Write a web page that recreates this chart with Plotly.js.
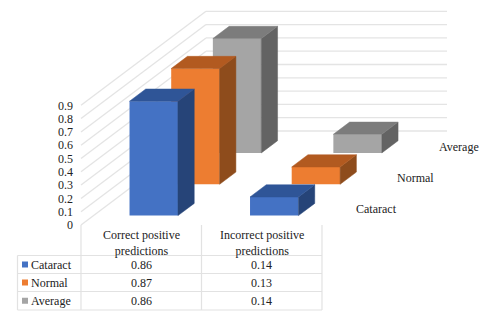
<!DOCTYPE html>
<html>
<head>
<meta charset="utf-8">
<script src="https://cdn.plot.ly/plotly-3.0.1.min.js"></script>
<style>html,body{margin:0;padding:0;background:#fff}#c{width:480px;height:316px}</style>
</head>
<body>
<div id="c"></div>
<script>
var categories = ["Correct positive<br>predictions", "Incorrect positive<br>predictions"];
var seriesNames = ["Cataract", "Normal", "Average"];
var cataract = [0.86, 0.14];
var normal = [0.87, 0.13];
var average = [0.86, 0.14];
var yTicks = [0, 0.1, 0.2, 0.3, 0.4, 0.5, 0.6, 0.7, 0.8, 0.9];
var frontColors = ["#4472C4", "#ED7D31", "#A5A5A5"];
var topColors = ["#2F5597", "#B25A20", "#7C7C7C"];
var sideColors = ["#264478", "#8E4C1C", "#636363"];

var values = [cataract, normal, average];
var FONT = "Liberation Serif, Times New Roman, serif";

// Layout scale: one category = 120.5px, one value unit = 133px, origin at (81,225)
var CW = 120.5, VH = 133, OX = 81, OY = 225;
function X(px) { return (px - OX) / CW; }
function Y(py) { return (OY - py) / VH; }
// Oblique projection of the depth axis (0 front .. 1 back)
var DX = 125 / CW, DY = 94 / VH;
function sx(c, d) { return c + d * DX; }
function sy(v, d) { return v + d * DY; }

var BAR_W = 0.402, D_FRONT = 0.1, D_LEN = 0.13;
var traces = [], shapes = [], annotations = [];

// Depth-projected gridlines on side wall and back wall
var BACK_RIGHT = X(447);
yTicks.forEach(function (v) {
  var line = {color: "#E4E4E4", width: 1.3};
  shapes.push({type: "line", layer: "below", xref: "x", yref: "y", x0: sx(0, 0), y0: sy(v, 0), x1: sx(0, 1), y1: sy(v, 1), line: line});
  shapes.push({type: "line", layer: "below", xref: "x", yref: "y", x0: sx(0, 1), y0: sy(v, 1), x1: BACK_RIGHT, y1: sy(v, 1), line: line});
});

// Back-most series first
for (var s = 2; s >= 0; s--) {
  var d0 = D_FRONT + s / 3, d1 = d0 + D_LEN;
  traces.push({
    type: "bar", name: seriesNames[s], showlegend: false, hoverinfo: "skip",
    x: values[s].map(function (_, i) { return sx(i + 0.5, d0); }),
    y: values[s],
    base: values[s].map(function () { return sy(0, d0); }),
    width: BAR_W,
    marker: {color: frontColors[s], line: {width: 0}}
  });
}
// side and top faces, drawn back to front
for (var s2 = 2; s2 >= 0; s2--) {
  var a = D_FRONT + s2 / 3, b = a + D_LEN;
  values[s2].forEach(function (v, i) {
    var l = i + 0.5 - BAR_W / 2, r = i + 0.5 + BAR_W / 2;
    traces.push({
      type: "scatter", mode: "lines", fill: "toself", showlegend: false, hoverinfo: "skip",
      fillcolor: sideColors[s2], line: {color: sideColors[s2], width: 0.5},
      x: [sx(r, a), sx(r, b), sx(r, b), sx(r, a), sx(r, a)],
      y: [sy(0, a), sy(0, b), sy(v, b), sy(v, a), sy(0, a)]
    });
    traces.push({
      type: "scatter", mode: "lines", fill: "toself", showlegend: false, hoverinfo: "skip",
      fillcolor: topColors[s2], line: {color: topColors[s2], width: 0.5},
      x: [sx(l, a), sx(r, a), sx(r, b), sx(l, b), sx(l, a)],
      y: [sy(v, a), sy(v, a), sy(v, b), sy(v, b), sy(v, a)]
    });
  });
}

function label(text, px, py, anchor) {
  annotations.push({text: text, xref: "x", yref: "y", x: X(px), y: Y(py), xanchor: anchor, yanchor: "middle",
    showarrow: false, align: "center", borderpad: 0, font: {family: FONT, size: 12, color: "#222"}});
}

// Depth axis labels
seriesNames.forEach(function (n, s) {
  var d = (s + 0.5) / 3;
  annotations.push({text: n, xref: "x", yref: "y", x: sx(2.097, d), y: sy(0, d), xanchor: "left", yanchor: "middle",
    showarrow: false, borderpad: 0, font: {family: FONT, size: 12, color: "#222"}});
});

// Data table
var colX = [17.5, 81, 201.5, 322], rowY = [255.5, 273.5, 291.5, 310];
var tl = {color: "#E2E2E2", width: 1.2};
function tline(x0, y0, x1, y1) {
  shapes.push({type: "line", layer: "below", xref: "x", yref: "y", x0: X(x0), y0: Y(y0), x1: X(x1), y1: Y(y1), line: tl});
}
rowY.forEach(function (y) { tline(colX[0], y, colX[3], y); });
tline(colX[0], rowY[0], colX[0], rowY[3]);
tline(colX[1], OY, colX[1], rowY[3]);
tline(colX[2], OY, colX[2], rowY[3]);
tline(colX[3], OY, colX[3], rowY[3]);

categories.forEach(function (c, i) {
  label(c, (colX[i + 1] + colX[i + 2]) / 2, 242.5, "center");
});
seriesNames.forEach(function (n, s) {
  var cy = (rowY[s] + rowY[s + 1]) / 2;
  shapes.push({type: "rect", xref: "x", yref: "y", x0: X(22), x1: X(28), y0: Y(cy - 3), y1: Y(cy + 3),
    fillcolor: frontColors[s], line: {width: 0}});
  label(n, 30, cy, "left");
  values[s].forEach(function (v, i) {
    label(v.toFixed(2), (colX[i + 1] + colX[i + 2]) / 2, cy, "center");
  });
});

var layout = {
  width: 480, height: 316,
  margin: {l: 0, r: 0, t: 0, b: 0, pad: 0},
  paper_bgcolor: "#fff", plot_bgcolor: "rgba(0,0,0,0)",
  barmode: "overlay", showlegend: false,
  xaxis: {range: [X(0), X(480)], visible: false, fixedrange: true},
  yaxis: {range: [Y(316), Y(0)], anchor: "free", position: 73 / 480, automargin: false,
    tickmode: "array", tickvals: yTicks, ticktext: yTicks.map(String),
    showgrid: false, zeroline: false, showline: false, ticks: "", fixedrange: true,
    tickfont: {family: FONT, size: 12, color: "#222"}},
  shapes: shapes, annotations: annotations
};
Plotly.newPlot("c", traces, layout, {displayModeBar: false, staticPlot: true});
</script>
</body>
</html>
